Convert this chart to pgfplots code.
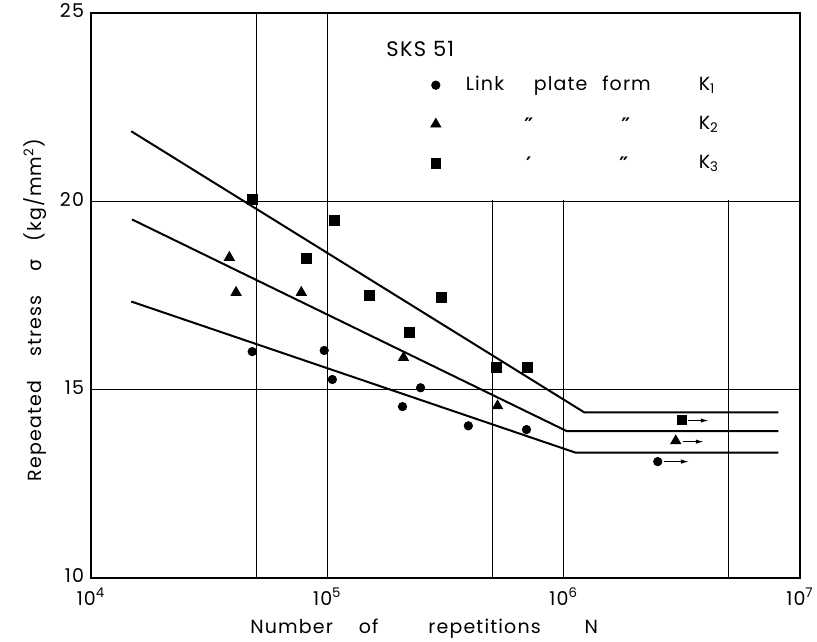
\documentclass[border=0pt]{standalone}
\usepackage{fontspec}
\setmainfont{Poppins}[LetterSpace=6]
\newfontfamily\dejavu{DejaVu Sans}
\usepackage{pgfplots}
\pgfplotsset{compat=1.18}
\usetikzlibrary{arrows.meta}

\newcommand{\ditto}{\makebox[0pt]{\raisebox{-1.5pt}{\dejavu\bfseries\fontsize{10}{11}\selectfont ″}}}
\newcommand{\dittoone}{\makebox[0pt]{\raisebox{-1.5pt}{\dejavu\bfseries\fontsize{10}{11}\selectfont ′}}}

\begin{document}
\begin{tikzpicture}
\begin{axis}[
  scale only axis, width=354.5pt, height=282.5pt,
  xmode=log, log basis x=10,
  xmin=1e4, xmax=1e7, ymin=10, ymax=25,
  xtick={1e4,5e4,1e5,5e5,1e6,5e6,1e7},
  xticklabels={10\textsuperscript{4},,10\textsuperscript{5},,10\textsuperscript{6},,10\textsuperscript{7}},
  ytick={10,15,20,25},
  minor x tick num=0,
  grid=major,
  major grid style={black, line width=0.55pt},
  major tick length=0pt,
  axis line style={line width=0.9pt},
  tick label style={font=\fontsize{9.5}{11}\selectfont},
  xticklabel style={yshift=-1.5pt},
  yticklabel style={yshift=1pt},
  /pgf/number format/assume math mode=true,
  xlabel={Number\hspace{13pt}of\hspace{25pt}repetitions\hspace{22pt}N},
  ylabel={Repeated\hspace{12pt}stress\hspace{12pt}{\dejavu σ}\hspace{9pt}(kg/mm\textsuperscript{2})},
  label style={font=\fontsize{9.5}{11}\selectfont},
  xlabel style={at={(ticklabel cs:0.47)}},
  ylabel style={at={(ticklabel cs:0.474)}},
  legend style={draw=none, fill=none, at={(rel axis cs:0.466,0.903)}, anchor=north west,
    font=\fontsize{9.5}{11}\selectfont, row sep=6.5pt,
    nodes={inner sep=2pt, text height=7pt, text depth=2pt}},
  legend cell align=left,
  legend image code/.code={\path[draw=none,fill=none] (0pt,0pt) -- (17pt,0pt); \draw[#1] plot coordinates {(4pt,0pt)};},
]
% blank area behind the key
\fill[white] ([yshift=0.7pt]axis cs:1.04e5,20) rectangle ([xshift=-0.7pt,yshift=-0.7pt]rel axis cs:1,1);

% fitted lines
\addplot[black, line width=1pt, forget plot] coordinates {(1.48e4,21.86) (1.22e6,14.40) (8.1e6,14.40)};
\addplot[black, line width=1pt, forget plot] coordinates {(1.49e4,19.52) (1.03e6,13.90) (8.1e6,13.90)};
\addplot[black, line width=1pt, forget plot] coordinates {(1.48e4,17.34) (1.12e6,13.33) (8.1e6,13.33)};

% K1 circles
\addplot[only marks, mark=*, mark size=2.1pt, mark options={fill=black, draw=black}]
  coordinates {(4.81e4,16.01) (9.7e4,16.04) (1.05e5,15.27) (2.08e5,14.55) (2.48e5,15.05)
               (3.95e5,14.04) (6.96e5,13.94) (2.5e6,13.09)};
\addlegendentry{\makebox[116.5pt][l]{\makebox[92.5pt][s]{Link\hfil\hfil plate\hfil form}}K\textsubscript{1}}
% K2 triangles
\addplot[only marks, mark=triangle*, mark size=2.9pt, mark options={fill=black, draw=black}]
  coordinates {(3.85e4,18.51) (4.11e4,17.58) (7.76e4,17.58) (2.1e5,15.85) (5.25e5,14.57) (2.98e6,13.64)};
\addlegendentry{\makebox[116.5pt][l]{\hspace{31.5pt}\ditto\hspace{48.5pt}\ditto}K\textsubscript{2}}
% K3 squares
\addplot[only marks, mark=square*, mark size=2.4pt, mark options={fill=black, draw=black}]
  coordinates {(4.82e4,20.05) (1.07e5,19.5) (8.15e4,18.48) (1.51e5,17.5) (2.22e5,16.52)
               (3.04e5,17.45) (5.2e5,15.59) (7.03e5,15.59) (3.16e6,14.2)};
\addlegendentry{\makebox[116.5pt][l]{\hspace{31.5pt}\dittoone\hspace{47.5pt}\ditto}K\textsubscript{3}}

% run-out arrows
\addplot[black, line width=0.6pt, -{Latex[length=4pt,width=2.2pt]}, forget plot] coordinates {(2.66e6,13.09) (3.39e6,13.09)};
\addplot[black, line width=0.6pt, -{Latex[length=4pt,width=2.2pt]}, forget plot] coordinates {(3.19e6,13.62) (3.92e6,13.62)};
\addplot[black, line width=0.6pt, -{Latex[length=4pt,width=2.2pt]}, forget plot] coordinates {(3.35e6,14.18) (4.11e6,14.18)};

\node[anchor=west, font=\fontsize{10.5}{12}\selectfont] at (axis cs:1.66e5,24.05) {SKS 51};
\end{axis}
\pgfresetboundingbox
\path ([xshift=-45.5pt,yshift=-31.5pt]current axis.south west) rectangle ([xshift=8.5pt,yshift=6.5pt]current axis.north east);
\end{tikzpicture}
\end{document}
